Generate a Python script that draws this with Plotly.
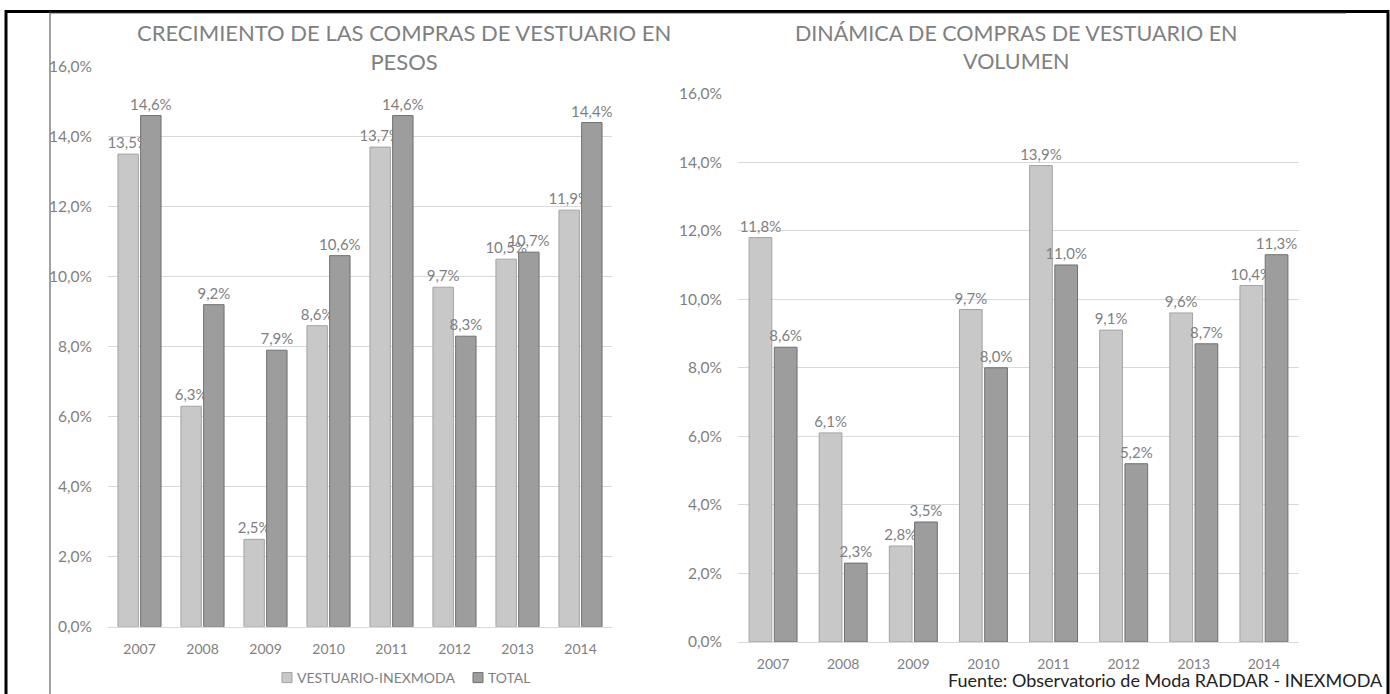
import plotly.graph_objects as go

years = ["2007", "2008", "2009", "2010", "2011", "2012", "2013", "2014"]
pesos_vestuario = [13.5, 6.3, 2.5, 8.6, 13.7, 9.7, 10.5, 11.9]
pesos_total = [14.6, 9.2, 7.9, 10.6, 14.6, 8.3, 10.7, 14.4]
vol_vestuario = [11.8, 6.1, 2.8, 9.7, 13.9, 9.1, 9.6, 10.4]
vol_total = [8.6, 2.3, 3.5, 8.0, 11.0, 5.2, 8.7, 11.3]
y_ticks = [0, 2, 4, 6, 8, 10, 12, 14, 16]
series_names = ["VESTUARIO-INEXMODA", "TOTAL"]
title_left = "CRECIMIENTO DE LAS COMPRAS DE VESTUARIO EN<br>PESOS"
title_right = "DINÁMICA DE COMPRAS DE VESTUARIO EN<br>VOLUMEN"
source_text = "Fuente: Observatorio de Moda RADDAR - INEXMODA"

W, H = 1390, 694
FONT = "Lato, Roboto, sans-serif"
GRAY = "#7f7f7f"
LIGHT_FILL, LIGHT_LINE = "#c8c8c8", "#a3a3a3"
DARK_FILL, DARK_LINE = "#9d9d9d", "#707070"

# vertical calibration of the capture
Y_OFF, Y_SCALE = 10.7, 0.970

def px_x(p):
    return p / W

def px_y(p):
    q = (p - Y_OFF) / Y_SCALE
    return (H - q) / H

fig = go.Figure()

def add_bars(vals, name, fill, line, xa, ya):
    fig.add_trace(go.Bar(
        x=years, y=vals, name=name, xaxis=xa, yaxis=ya,
        marker=dict(color=fill, line=dict(color=line, width=1)),
        texttemplate="%{y:.1f}%", textposition="outside", constraintext="none",
        textfont=dict(family=FONT, size=15, color=GRAY),
        cliponaxis=False, showlegend=False,
    ))

add_bars(pesos_vestuario, series_names[0], LIGHT_FILL, LIGHT_LINE, "x", "y")
add_bars(pesos_total, series_names[1], DARK_FILL, DARK_LINE, "x", "y")
add_bars(vol_vestuario, series_names[0], LIGHT_FILL, LIGHT_LINE, "x2", "y2")
add_bars(vol_total, series_names[1], DARK_FILL, DARK_LINE, "x2", "y2")

tick_text = [f"{v:.1f}%".replace(".", ",") for v in y_ticks]

xaxis_common = dict(showgrid=False, showline=True, linecolor="#d9d9d9", linewidth=1,
                    ticks="", tickfont=dict(family=FONT, size=14, color=GRAY),
                    ticklabelstandoff=9, fixedrange=True)
yaxis_common = dict(range=[0, 16], tickvals=y_ticks, ticktext=tick_text,
                    showgrid=True, gridcolor="#d9d9d9", gridwidth=1,
                    zeroline=False, showline=False, ticks="", ticklabelstandoff=15,
                    tickfont=dict(family=FONT, size=15.5, color=GRAY), fixedrange=True)

fig.update_layout(
    width=W, height=H,
    margin=dict(l=0, r=0, t=0, b=0),
    paper_bgcolor="white", plot_bgcolor="white",
    separators=",.",
    barmode="group", bargap=0.28, bargroupgap=0.1,
    showlegend=False,
    xaxis=dict(domain=[px_x(108), px_x(612)], anchor="y", **xaxis_common),
    yaxis=dict(domain=[px_y(625), px_y(67)], anchor="x", **yaxis_common),
    xaxis2=dict(domain=[px_x(738), px_x(1299)], anchor="y2", **xaxis_common),
    yaxis2=dict(domain=[px_y(640), px_y(94)], anchor="x2", **yaxis_common),
    font=dict(family=FONT, color=GRAY),
)

fig.add_annotation(text=title_left, x=px_x(404), y=px_y(47.5), xref="paper", yref="paper",
                   xanchor="center", yanchor="middle", showarrow=False,
                   font=dict(family=FONT, size=22, color="#808080"))
fig.add_annotation(text=title_right, x=px_x(1016), y=px_y(47.5), xref="paper", yref="paper",
                   xanchor="center", yanchor="middle", showarrow=False,
                   font=dict(family=FONT, size=21.5, color="#808080"))
fig.add_annotation(text=source_text, x=px_x(1385), y=px_y(678), xref="paper", yref="paper",
                   xanchor="right", yanchor="middle", showarrow=False,
                   font=dict(family=FONT, size=18, color="#222222"))

# legend (manual, below the left chart)
legend_items = [
    (series_names[0], LIGHT_FILL, LIGHT_LINE, 282),
    (series_names[1], DARK_FILL, DARK_LINE, 473),
]
for name, fill, line, x0 in legend_items:
    fig.add_shape(type="rect", xref="paper", yref="paper",
                  x0=px_x(x0), x1=px_x(x0 + 10), y0=px_y(680.5), y1=px_y(670.5),
                  fillcolor=fill, line=dict(color=line, width=1))
    fig.add_annotation(text=name, x=px_x(x0 + 13), y=px_y(675.5), xref="paper", yref="paper",
                       xanchor="left", yanchor="middle", showarrow=False,
                       font=dict(family=FONT, size=14, color=GRAY))

# frame lines
frame = [
    dict(x0=5, y0=12.2, x1=1389, y1=12.2, color="black", width=3),
    dict(x0=6, y0=11, x1=6, y1=700, color="black", width=3),
    dict(x0=1388, y0=11, x1=1388, y1=700, color="black", width=3),
    dict(x0=50, y0=12, x1=50, y1=700, color="#444444", width=1),
    dict(x0=50, y0=14, x1=1346, y1=14, color="#9a9a9a", width=1),
]
for f in frame:
    fig.add_shape(type="line", xref="paper", yref="paper",
                  x0=px_x(f["x0"]), x1=px_x(f["x1"]), y0=px_y(f["y0"]), y1=px_y(f["y1"]),
                  line=dict(color=f["color"], width=f["width"]))

fig.write_html(
    "out.html",
    config={"displayModeBar": False},
    post_script="document.body.style.margin='0';document.body.style.overflow='hidden';",
)
